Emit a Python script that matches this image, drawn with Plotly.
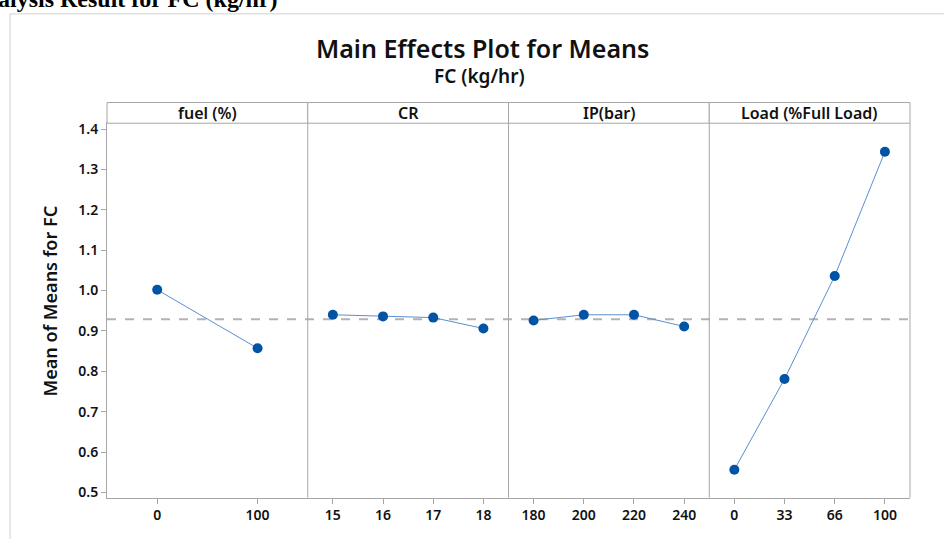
import numpy as np
import plotly.graph_objects as go

# ---- data ----
factor_names = ["fuel (%)", "CR", "IP(bar)", "Load (%Full Load)"]
fuel_levels = ["0", "100"]
fuel_means = [1.002, 0.857]
cr_levels = ["15", "16", "17", "18"]
cr_means = [0.940, 0.936, 0.933, 0.906]
ip_levels = ["180", "200", "220", "240"]
ip_means = [0.926, 0.940, 0.940, 0.911]
load_levels = ["0", "33", "66", "100"]
load_means = [0.556, 0.781, 1.036, 1.344]
y_ticks = [0.5, 0.6, 0.7, 0.8, 0.9, 1.0, 1.1, 1.2, 1.3, 1.4]

levels = [fuel_levels, cr_levels, ip_levels, load_levels]
means = [fuel_means, cr_means, ip_means, load_means]
grand_mean = float(np.mean([np.mean(m) for m in means]))

W, H = 944, 543
def px(x): return x / W
def py(y): return 1 - y / H

left, right = 107, 910
top, bottom = 121, 501
strip_top = 100
edges = np.linspace(left, right, 5)

FONT = "Noto Sans"
AX = "#a6a6a6"
TXT = "#111111"
fig = go.Figure()
layout = dict(
    width=W, height=H,
    margin=dict(l=0, r=0, t=0, b=0),
    paper_bgcolor="white", plot_bgcolor="white",
    showlegend=False,
    font=dict(family=FONT, color=TXT),
)
shapes = []
annotations = []

for i in range(4):
    xa = "x" if i == 0 else f"x{i+1}"
    xkey = "xaxis" if i == 0 else f"xaxis{i+1}"
    fig.add_trace(go.Scatter(
        x=levels[i], y=means[i], xaxis=xa, yaxis="y",
        mode="lines+markers",
        line=dict(color="#5b8fd0", width=1),
        marker=dict(color="#0153a5", size=10),
        cliponaxis=False,
    ))
    layout[xkey] = dict(
        domain=[px(edges[i]), px(edges[i + 1])],
        anchor="y", type="category",
        categoryorder="array", categoryarray=levels[i],
        range=[-0.5, len(levels[i]) - 0.5],
        showline=True, linecolor=AX, linewidth=1, mirror=True,
        ticks="outside", ticklen=5, tickcolor=AX,
        tickfont=dict(size=14, family=FONT, color=TXT, weight=600),
        showgrid=False, zeroline=False, fixedrange=True,
    )
    # strip
    shapes.append(dict(type="rect", xref="paper", yref="paper",
                       x0=px(edges[i]), x1=px(edges[i + 1]),
                       y0=py(top), y1=py(strip_top),
                       line=dict(color=AX, width=1), fillcolor="white", layer="above"))
    annotations.append(dict(text=factor_names[i], xref="paper", yref="paper",
                            x=px((edges[i] + edges[i + 1]) / 2), y=py((top + strip_top) / 2),
                            xanchor="center", yanchor="middle", showarrow=False,
                            font=dict(size=16, family=FONT, color=TXT, weight=600)))

# panel dividers and right border
for e in edges[1:]:
    shapes.append(dict(type="line", xref="paper", yref="paper",
                       x0=px(e), x1=px(e), y0=py(bottom), y1=py(top),
                       line=dict(color=AX, width=1), layer="above"))

layout["yaxis"] = dict(
    domain=[py(bottom), py(top)], anchor="x",
    range=[0.487, 1.4146],
    tickvals=y_ticks, ticktext=[f"{v:.1f}" for v in y_ticks],
    showline=True, linecolor=AX, linewidth=1,
    ticks="outside", ticklen=5, tickcolor=AX,
    tickfont=dict(size=14, family=FONT, color=TXT, weight=600),
    showgrid=False, zeroline=False, fixedrange=True,
)

# grand mean reference line
shapes.append(dict(type="line", xref="paper", yref="y",
                   x0=px(left), x1=px(right), y0=grand_mean, y1=grand_mean,
                   line=dict(color="#b3b3b3", width=2, dash="dash"), layer="below"))

# document frame
shapes.append(dict(type="line", xref="paper", yref="paper",
                   x0=px(10), x1=px(10), y0=0, y1=py(10),
                   line=dict(color="#d0d0d0", width=1)))
shapes.append(dict(type="line", xref="paper", yref="paper",
                   x0=px(10), x1=1, y0=py(10), y1=py(10),
                   line=dict(color="#d0d0d0", width=1)))

annotations += [
    dict(text="Main Effects Plot for Means", xref="paper", yref="paper",
         x=px(482), y=py(45), xanchor="center", yanchor="middle", showarrow=False,
         font=dict(size=25, family=FONT, color=TXT, weight=600)),
    dict(text="FC (kg/hr)", xref="paper", yref="paper",
         x=px(479), y=py(73), xanchor="center", yanchor="middle", showarrow=False,
         font=dict(size=19, family=FONT, color=TXT, weight=600)),
    dict(text="Mean of Means for FC", xref="paper", yref="paper",
         x=px(50), y=py(302), xanchor="center", yanchor="middle", textangle=-90,
         showarrow=False, font=dict(size=18, family=FONT, color=TXT, weight=600)),
    dict(text="<b>alysis Result for FC (kg/hr)</b>", xref="paper", yref="paper",
         x=px(-4), y=py(-5), xanchor="left", yanchor="middle", showarrow=False,
         font=dict(size=24, family="Liberation Serif", color="#000000")),
]

layout["shapes"] = shapes
layout["annotations"] = annotations
fig.update_layout(**layout)
fig.write_html(
    "out.html",
    config={"displayModeBar": False, "staticPlot": True},
    post_script=(
        "document.documentElement.style.margin='0';"
        "document.body.style.margin='0';document.body.style.padding='0';"
        "document.body.style.overflow='hidden';"
        "var d=document.getElementById('{plot_id}');"
        "d.style.position='absolute';d.style.top='0px';d.style.left='0px';"
    ),
)
